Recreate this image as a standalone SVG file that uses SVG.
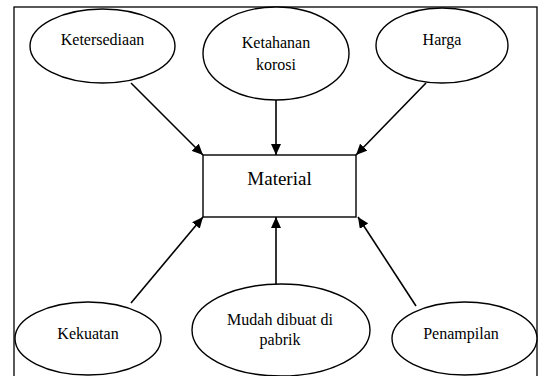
<svg xmlns="http://www.w3.org/2000/svg" width="539" height="376" viewBox="0 0 539 376">
<style>
.n{fill:#fff;stroke:#000;stroke-width:1.4}
.t{font-family:"Liberation Serif","Times New Roman",serif;font-size:16px;fill:#000;text-anchor:middle}
.c line{stroke:#000;stroke-width:1.6;marker-end:url(#ah)}
</style>
<defs>
<marker id="ah" markerUnits="userSpaceOnUse" markerWidth="12" markerHeight="10" refX="11" refY="5" orient="auto">
<path d="M0,0 L11,5 L0,10 Z" fill="#000"/>
</marker>
</defs>
<rect width="539" height="376" fill="#fff"/>
<rect x="14" y="7" width="523" height="380" fill="none" stroke="#000" stroke-width="1.3"/>
<g class="c" id="connectors">
<line x1="131" y1="83" x2="203" y2="155"/>
<line x1="276" y1="100" x2="276" y2="155"/>
<line x1="426" y1="83" x2="356" y2="155"/>
<line x1="131" y1="303" x2="203" y2="217"/>
<line x1="276" y1="284" x2="276" y2="217"/>
<line x1="416" y1="306" x2="358" y2="217"/>
</g>
<g id="material"><rect class="n" x="203" y="155" width="153" height="62"/><text class="t" x="279.5" y="185" style="font-size:19px">Material</text></g>
<g id="ketersediaan"><ellipse class="n" cx="102.5" cy="46" rx="72.5" ry="37"/><text class="t" x="102.5" y="45">Ketersediaan</text></g>
<g id="ketahanan"><ellipse class="n" cx="276" cy="53.5" rx="73" ry="46.5"/><text class="t" x="276" y="48">Ketahanan</text><text class="t" x="276" y="70">korosi</text></g>
<g id="harga"><ellipse class="n" cx="442" cy="45.5" rx="66" ry="37.5"/><text class="t" x="442" y="45">Harga</text></g>
<g id="kekuatan"><ellipse class="n" cx="88" cy="338.5" rx="73" ry="36.5"/><text class="t" x="88" y="339">Kekuatan</text></g>
<g id="mudah"><ellipse class="n" cx="281" cy="330" rx="89" ry="46"/><text class="t" x="280" y="325">Mudah dibuat di</text><text class="t" x="280" y="345">pabrik</text></g>
<g id="penampilan"><ellipse class="n" cx="464.5" cy="338.5" rx="72.5" ry="36.5"/><text class="t" x="461" y="339">Penampilan</text></g>
</svg>
